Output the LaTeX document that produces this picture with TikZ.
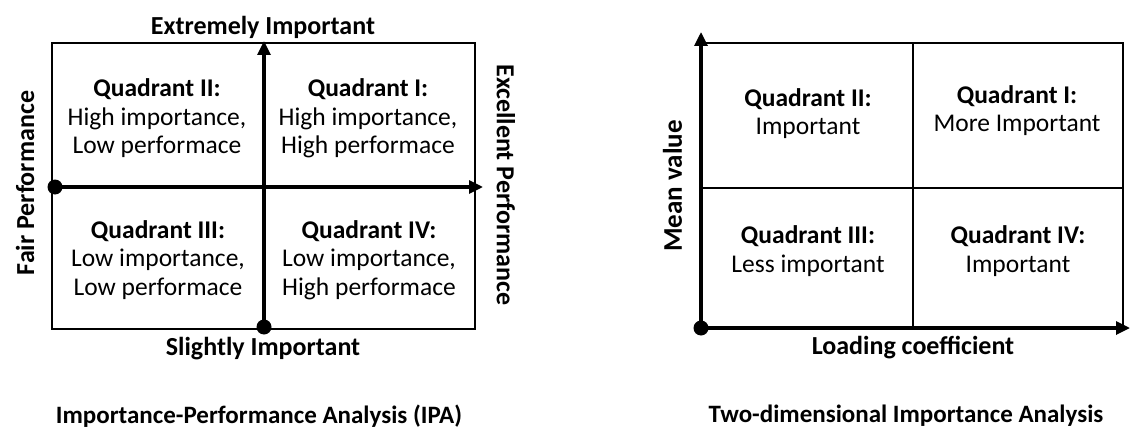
\documentclass[tikz,border=0pt]{standalone}
\usepackage{fontspec}
\setmainfont{Carlito}
\usetikzlibrary{arrows.meta}
\begin{document}
\begin{tikzpicture}[x=1pt,y=-1pt,
  txt/.style={align=center,font=\fontsize{25.5}{28.5}\selectfont,inner sep=0pt},
  lbl/.style={font=\fontsize{26}{30}\selectfont\bfseries,inner sep=0pt},
  ttl/.style={font=\fontsize{25}{30}\selectfont\bfseries,inner sep=0pt},
  axis/.style={line width=3.2pt,-{Triangle[length=14pt,width=13pt]}},
  frame/.style={line width=2pt},
  dotmark/.style={circle,fill=black,minimum size=15pt,inner sep=0pt}]
\useasboundingbox (0,0) rectangle (1130,428);

% ---- Importance-Performance Analysis ----
\coordinate (a1) at (52,43);
\coordinate (a2) at (475,43);
\coordinate (a3) at (475,329);
\coordinate (a4) at (52,329);
\draw[frame] (a1) -- (a2) -- (a3) -- (a4) -- cycle;

\node[dotmark] (ho) at (55,187) {};
\node[dotmark] (vo) at (264,327) {};
\coordinate (hend) at (483,187);
\coordinate (vend) at (264,41);
\draw[axis] (ho.center) -- (hend);
\draw[axis] (vo.center) -- (vend);

\node[txt] (q2) at (157,118.5) {\textbf{Quadrant II:}\\High importance,\\Low performace};
\node[txt] (q1) at (368,118.5) {\textbf{Quadrant I:}\\High importance,\\High performace};
\node[txt] (q3) at (158,260) {\textbf{Quadrant III:}\\Low importance,\\Low performace};
\node[txt] (q4) at (369,260) {\textbf{Quadrant IV:}\\Low importance,\\High performace};

\node[lbl] (ext) at (263,27) {Extremely Important};
\node[lbl] (sli) at (263,349) {Slightly Important};
\node[lbl,rotate=90] (fair) at (25,183) {Fair Performance};
\node[lbl,rotate=-90] (exc) at (506,185) {Excellent Performance};
\node[ttl] (t1) at (259,416) {Importance-Performance Analysis (IPA)};

% ---- Two-dimensional Importance Analysis ----
\node[dotmark] (o) at (701,328) {};
\coordinate (xend) at (1130,328);
\coordinate (yend) at (701,32);
\coordinate (b1) at (701,43.5);
\coordinate (b2) at (1123,43.5);
\coordinate (b3) at (1123,328);
\coordinate (m1) at (913,43.5);
\coordinate (m2) at (913,328);
\coordinate (m3) at (701,187.5);
\coordinate (m4) at (1123,187.5);
\draw[frame] (b1) -- (b2) -- (b3);
\draw[frame] (m1) -- (m2);
\draw[frame] (m3) -- (m4);
\draw[axis] (o.center) -- (xend);
\draw[axis] (o.center) -- (yend);

\node[txt] (r2) at (808,113.5) {\textbf{Quadrant II:}\\Important};
\node[txt] (r1) at (1017,110.5) {\textbf{Quadrant I:}\\More Important};
\node[txt] (r3) at (808,251) {\textbf{Quadrant III:}\\Less important};
\node[txt] (r4) at (1018,251) {\textbf{Quadrant IV:}\\Important};

\node[lbl,font=\fontsize{27}{30}\selectfont\bfseries,rotate=90] (mean) at (672.5,186) {Mean value};
\node[lbl] (load) at (913,348) {Loading coefficient};
\node[ttl] (t2) at (906,416) {Two-dimensional Importance Analysis};
\end{tikzpicture}
\end{document}
